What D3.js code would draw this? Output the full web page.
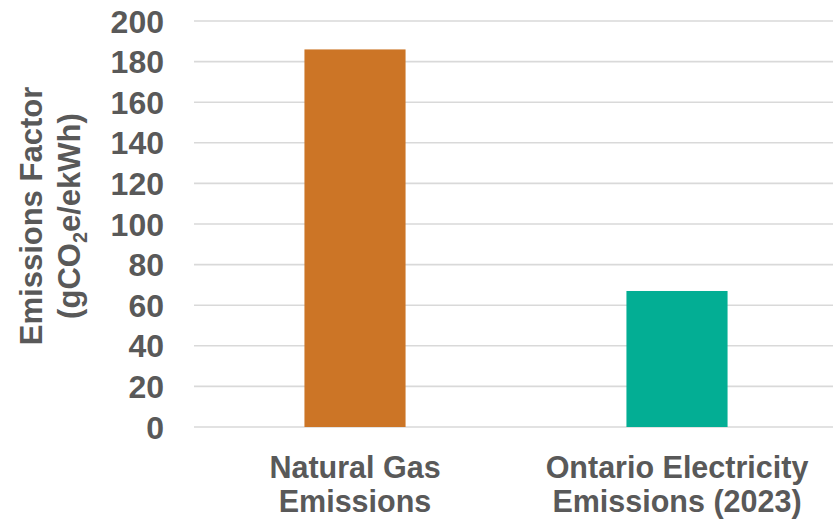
<!DOCTYPE html>
<html>
<head>
<meta charset="utf-8">
<script src="https://cdn.jsdelivr.net/npm/d3@7"></script>
<style>
  html, body { margin: 0; padding: 0; background: #fff; }
  svg text { font-family: "Liberation Sans", Arial, sans-serif; font-weight: bold; fill: #595959; }
</style>
</head>
<body>
<svg id="chart" width="833" height="524"></svg>
<script>
// Emissions factor by energy source (gCO2e/ekWh)
const categories = [["Natural Gas", "Emissions"], ["Ontario Electricity", "Emissions (2023)"]];
const values = [186, 67];
const colors = ["#CC7526", "#03AE94"];
const yTicks = [0, 20, 40, 60, 80, 100, 120, 140, 160, 180, 200];

const svg = d3.select("#chart");
const W = 833;

const x = d3.scaleBand()
  .domain(d3.range(categories.length))
  .range([194, 838])
  .paddingInner(0.686)
  .paddingOuter(0.343);

const y = d3.scaleLinear().domain([0, 200]).range([427, 21]);

// horizontal gridlines
svg.append("g")
  .selectAll("line")
  .data(yTicks)
  .join("line")
  .attr("x1", 194)
  .attr("x2", W)
  .attr("y1", d => y(d))
  .attr("y2", d => y(d))
  .attr("stroke", "#d9d9d9")
  .attr("stroke-width", 1.6);

// y tick labels
svg.append("g")
  .selectAll("text")
  .data(yTicks)
  .join("text")
  .attr("x", 164)
  .attr("y", d => y(d))
  .attr("dy", "0.36em")
  .attr("text-anchor", "end")
  .style("font-size", "32px")
  .text(d => d);

// bars
svg.append("g")
  .selectAll("rect")
  .data(values)
  .join("rect")
  .attr("x", (d, i) => x(i))
  .attr("width", x.bandwidth())
  .attr("y", d => y(d))
  .attr("height", d => y(0) - y(d))
  .attr("fill", (d, i) => colors[i]);

// category labels (two lines each)
const cat = svg.append("g")
  .selectAll("text")
  .data(categories)
  .join("text")
  .attr("text-anchor", "middle")
  .style("font-size", "30.5px");
cat.each(function(lines, i) {
  const t = d3.select(this);
  lines.forEach((line, j) => {
    t.append("tspan")
      .attr("x", x(i) + x.bandwidth() / 2)
      .attr("y", 478 + j * 34)
      .text(line);
  });
});

// y axis title
const title = svg.append("text")
  .attr("transform", "translate(42,216) rotate(-90)")
  .attr("text-anchor", "middle")
  .style("font-size", "31px");
title.append("tspan").attr("x", 0).attr("y", 0).text("Emissions Factor");
const l2 = title.append("tspan").attr("x", 0).attr("y", 38);
l2.append("tspan").text("(gCO");
l2.append("tspan").style("font-size", "20px").attr("dy", 7).text("2");
l2.append("tspan").attr("dy", -7).text("e/ekWh)");
</script>
</body>
</html>
